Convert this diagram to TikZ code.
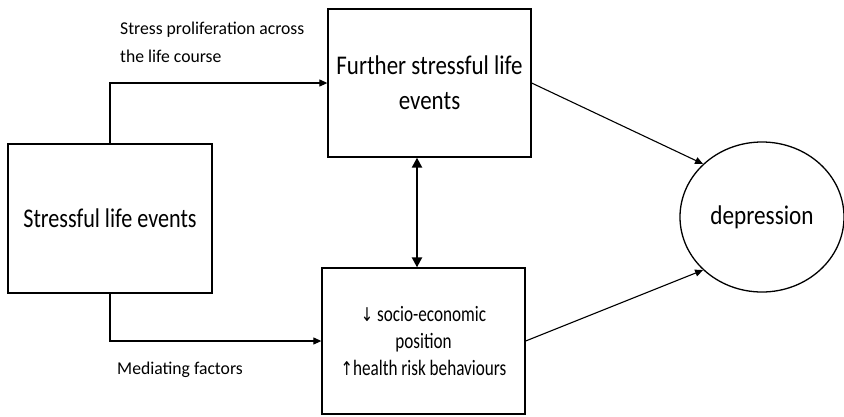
\documentclass[tikz,border=0pt]{standalone}
\usepackage{fontspec}
\setmainfont{Carlito}
\newfontfamily\arrowfont{DejaVu Sans}
\usetikzlibrary{arrows.meta,shapes.geometric,calc}
\newcommand\hsq[2]{\scalebox{#1}[1]{#2}}
\begin{document}
\begin{tikzpicture}[x=1pt,y=-1pt,
  boxst/.style={draw,line width=1.3pt,rectangle,inner sep=0pt,align=center},
  bigtxt/.style={font=\fontsize{27}{35}\selectfont},
  smalltxt/.style={font=\fontsize{22}{27}\selectfont},
  lbl/.style={font=\fontsize{18}{28}\selectfont,align=left,inner sep=0pt},
  conn/.style={line width=1.1pt,-{Triangle[length=8pt,width=7pt]}},
  dbl/.style={line width=2.2pt,{Triangle[length=10pt,width=10pt]}-{Triangle[length=10pt,width=10pt]}}]
\useasboundingbox (0,0) rectangle (844,416);
\node[boxst,bigtxt,minimum width=204pt,minimum height=149pt] (left) at (110,218.5) {\hsq{0.82}{Stressful life events}};
\node[boxst,bigtxt,minimum width=203pt,minimum height=148pt] (top) at (429.5,83) {\hsq{0.85}{Further stressful life}\\\hsq{0.85}{events}};
\node[boxst,smalltxt,minimum width=203pt,minimum height=146pt] (bot) at (423.5,341) {\hsq{0.78}{{\arrowfont\fontsize{19}{27}\selectfont↓} socio-economic}\\\hsq{0.78}{position}\\\hsq{0.78}{{\arrowfont\fontsize{19}{27}\selectfont↑}health risk behaviours}};
\node[draw,line width=1.3pt,ellipse,minimum width=164pt,minimum height=150pt,inner sep=0pt,bigtxt] (dep) at (762,217) {\raisebox{-2pt}{\hsq{0.86}{depression}}};
\node[lbl,anchor=north west] (l1) at (120,22) {\hsq{0.98}{Stress proliferation across}\\\hsq{0.98}{the life course}};
\node[lbl,anchor=west] (l2) at (117,370) {\hsq{0.98}{Mediating factors}};
\coordinate (dx) at (417,0);
\draw[conn] (left.north) |- (top.west);
\draw[conn] (left.south) |- (bot.west);
\draw[dbl] (top.south -| dx) -- (bot.north -| dx);
\draw[conn] (top.east) -- (dep.138.5);
\draw[conn] (bot.east) -- (dep.222.5);
\end{tikzpicture}
\end{document}
